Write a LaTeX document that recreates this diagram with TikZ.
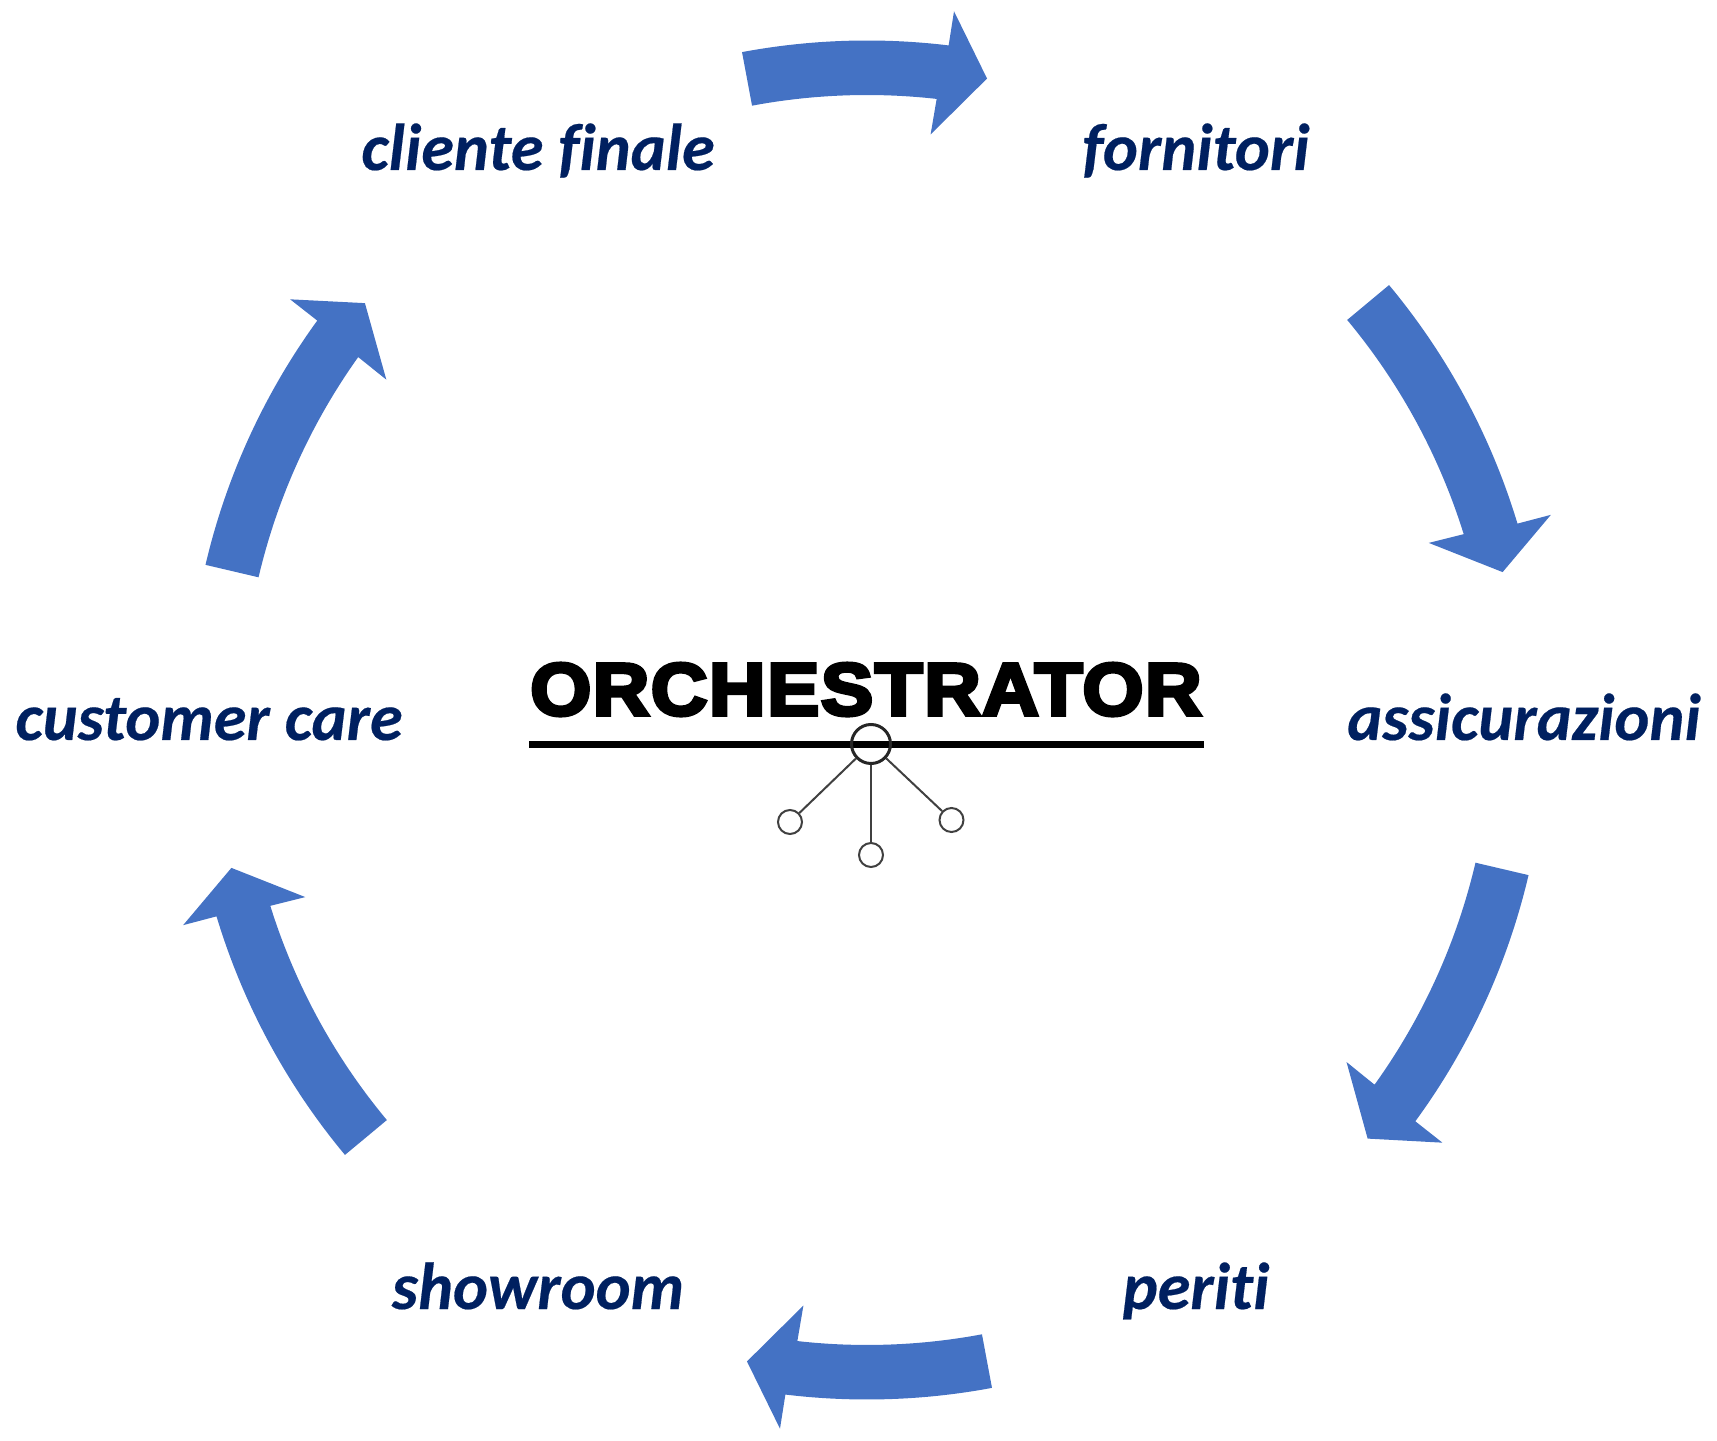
\documentclass[tikz,border=0pt]{standalone}
\usepackage{fontspec}
\setmainfont[Ligatures=NoCommon,BoldItalicFeatures={FakeBold=0.3}]{Carlito}
\newfontfamily\logofont[UprightFont=* Bold,FakeBold=5,FakeStretch=1.06,LetterSpace=2]{Liberation Sans}
\definecolor{arrowblue}{HTML}{4472C4}
\definecolor{labelnavy}{HTML}{002060}
\definecolor{logogray}{HTML}{404040}
\newcommand{\ringarrow}[2]{%
  \pgfmathsetmacro{\ta}{90-(#1)}%
  \pgfmathsetmacro{\tip}{90-(#2)}%
  \pgfmathsetmacro{\bo}{\tip+3.7}%
  \pgfmathsetmacro{\bi}{\tip+4.2}%
  \pgfmathsetmacro{\ho}{\tip+3.6}%
  \pgfmathsetmacro{\hi}{\tip+4.4}%
  \fill[arrowblue,shift={(867,720)}]
    (\ta:679.5) arc[start angle=\ta,end angle=\bo,radius=679.5]
    -- (\ho:714) -- (\tip:652.6) -- (\hi:589) -- (\bi:625)
    arc[start angle=\bi,end angle=\ta,radius=625] -- cycle;
}
\tikzset{
  label text/.style={anchor=base,text=labelnavy,font=\fontsize{33.2}{38}\selectfont\bfseries\itshape,inner sep=0pt},
  hub/.style={circle,draw=black!85,line width=1.5pt,minimum size=19.5pt,inner sep=0pt},
  leaf/.style={circle,draw=logogray,line width=1pt,minimum size=12pt,inner sep=0pt},
  spoke/.style={draw=logogray,line width=1pt}
}
\begin{document}
\begin{tikzpicture}[x=0.5pt,y=0.5pt]
\useasboundingbox (0,0) rectangle (1717,1440);
\ringarrow{-10.6}{10.6}
\ringarrow{50.2}{76.9}
\ringarrow{103.2}{129.9}
\ringarrow{169.4}{190.6}
\ringarrow{230.2}{256.9}
\ringarrow{283.2}{309.7}
\node[label text] (cliente) at (538,1270) {cliente finale};
\node[label text] (fornitori) at (1196,1270) {fornitori};
\node[label text] (assic) at (1524,700) {assicurazioni};
\node[label text] (custcare) at (209,700) {customer care};
\node[label text] (showroom) at (538,131) {showroom};
\node[label text] (periti) at (1196,131) {periti};
\node[anchor=base,inner sep=0pt,font=\logofont\fontsize{37}{40}\selectfont] (logo) at (866,725) {ORCHESTRATOR};
\fill[black] (529,691.5) rectangle (1204,698.5);
\node[hub] (hubc) at (871,696) {};
\node[leaf] (leafl) at (790,618) {};
\node[leaf] (leafr) at (951.5,620) {};
\node[leaf] (leafb) at (871,585) {};
\draw[spoke] (hubc) -- (leafl);
\draw[spoke] (hubc) -- (leafr);
\draw[spoke] (hubc) -- (leafb);
\end{tikzpicture}
\end{document}
